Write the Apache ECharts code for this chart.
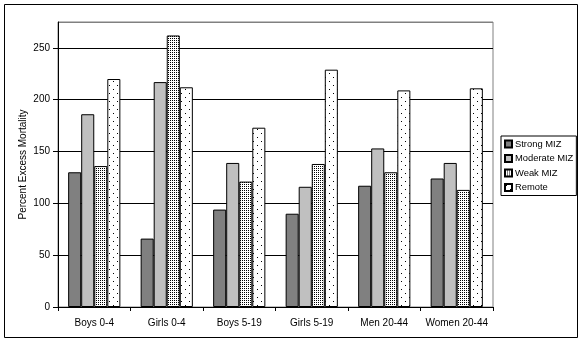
<!DOCTYPE html>
<html>
<head>
<meta charset="utf-8">
<script src="https://cdn.jsdelivr.net/npm/echarts@6/dist/echarts.min.js"></script>
<style>
html,body{margin:0;padding:0;background:#fff;}
#c{width:584px;height:344px;}
</style>
</head>
<body>
<div id="c"></div>
<script>
var categories = ['Boys 0-4', 'Girls 0-4', 'Boys 5-19', 'Girls 5-19', 'Men 20-44', 'Women 20-44'];
var seriesNames = ['Strong MIZ', 'Moderate MIZ', 'Weak MIZ', 'Remote'];
var strongMIZ = [130, 66, 94, 90, 117, 124];
var moderateMIZ = [186, 217, 139, 116, 153, 139];
var weakMIZ = [136, 262, 121, 138, 130, 113];
var remote = [220, 212, 173, 229, 209, 211];

function makePattern(w, h, dots) {
  var cv = document.createElement('canvas');
  cv.width = w; cv.height = h;
  var ctx = cv.getContext('2d');
  ctx.fillStyle = '#ffffff';
  ctx.fillRect(0, 0, w, h);
  ctx.fillStyle = '#000000';
  dots.forEach(function (d) { ctx.fillRect(d[0], d[1], 1, 1); });
  return cv;
}
var weakPat = makePattern(2, 2, [[0, 0]]);
var remotePat = makePattern(8, 8, [[1, 1], [5, 5]]);

var fills = ['#808080', '#c0c0c0', {image: weakPat, repeat: 'repeat'}, {image: remotePat, repeat: 'repeat'}];
var dataSets = [strongMIZ, moderateMIZ, weakMIZ, remote];

var chart = echarts.init(document.getElementById('c'), null, {renderer: 'canvas'});
var font = 'Liberation Sans, Arial, sans-serif';
chart.setOption({
  animation: false,
  textStyle: {fontFamily: font},
  graphic: [{
    type: 'rect', shape: {x: 4.5, y: 4.5, width: 573, height: 333},
    style: {fill: 'none', stroke: '#000', lineWidth: 1}, z: 100, silent: true
  }],
  grid: {left: 58, top: 22, right: 91, bottom: 37, show: true, borderColor: '#808080', borderWidth: 1, backgroundColor: '#fff'},
  legend: {
    orient: 'vertical', left: 501, top: 136,
    padding: [2, 3, 2, 3], itemGap: 2.5,
    itemWidth: 7, itemHeight: 7, icon: 'rect',
    borderColor: '#000', borderWidth: 1,
    textStyle: {fontSize: 9.4, color: '#000', fontFamily: font, lineHeight: 12, padding: [0, 0, 0, -2]},
    data: seriesNames
  },
  xAxis: {
    type: 'category', data: categories,
    axisLine: {lineStyle: {color: '#000', width: 1}},
    axisTick: {show: true, length: 4, lineStyle: {color: '#000'}},
    axisLabel: {fontSize: 10, color: '#000', margin: 11, fontFamily: font, interval: 0},
    splitLine: {show: false}
  },
  yAxis: {
    type: 'value', min: 0, max: 275, interval: 50,
    name: 'Percent Excess Mortality', nameLocation: 'middle', nameRotate: 90, nameGap: 30,
    nameMoveOverlap: false,
    nameTextStyle: {fontSize: 10, color: '#000', fontFamily: font},
    axisLine: {show: true, lineStyle: {color: '#000', width: 1}},
    axisTick: {show: true, length: 5, lineStyle: {color: '#000'}},
    axisLabel: {fontSize: 10, color: '#000', margin: 8, fontFamily: font, showMaxLabel: false},
    splitLine: {show: true, lineStyle: {color: ['#000', '#000', '#000', '#000', '#000', '#000', '#808080'], width: 1}}
  },
  series: seriesNames.map(function (n, i) {
    return {
      name: n, type: 'bar', data: dataSets[i],
      barGap: '0%', barCategoryGap: '28%',
      itemStyle: {color: fills[i], borderColor: '#000', borderWidth: 1},
      emphasis: {disabled: true}
    };
  })
});
</script>
</body>
</html>
